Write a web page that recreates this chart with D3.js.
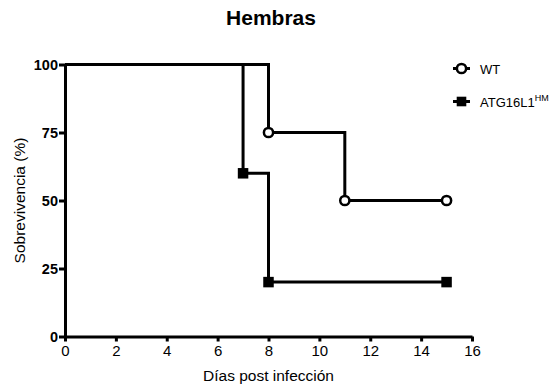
<!DOCTYPE html>
<html>
<head>
<meta charset="utf-8">
<script src="https://cdn.jsdelivr.net/npm/d3@7"></script>
<style>
  html, body { margin: 0; padding: 0; background: #fff; }
  svg { display: block; font-family: Arial, "Liberation Sans", sans-serif; }
</style>
</head>
<body>
<svg id="chart" width="554" height="387"></svg>
<script>
// Kaplan–Meier survival (females), % surviving by day post infection
const seriesNames = ["WT", "ATG16L1"];
const wtDays = [0, 8, 11, 15];
const wtSurvival = [100, 75, 50, 50];
const wtMarkedDays = [8, 11, 15];
const atgDays = [0, 7, 8, 15];
const atgSurvival = [100, 60, 20, 20];
const atgMarkedDays = [7, 8, 15];
const xTicks = [0, 2, 4, 6, 8, 10, 12, 14, 16];
const yTicks = [0, 25, 50, 75, 100];

const svg = d3.select("#chart");
const x = d3.scaleLinear().domain([0, 16]).range([65, 472]);
const y = d3.scaleLinear().domain([0, 100]).range([336.5, 64.5]);

// Title
svg.append("text")
  .attr("x", 271).attr("y", 25)
  .attr("text-anchor", "middle")
  .attr("font-size", 21).attr("font-weight", "bold")
  .text("Hembras");

// Axes
const xAxis = svg.append("g")
  .attr("transform", `translate(0,${y(0)})`)
  .call(d3.axisBottom(x).tickValues(xTicks).tickSize(5).tickSizeOuter(0).tickPadding(4));
const yAxis = svg.append("g")
  .attr("transform", `translate(${x(0)},0)`)
  .call(d3.axisLeft(y).tickValues(yTicks).tickSize(6).tickSizeOuter(0).tickPadding(1));

[xAxis, yAxis].forEach(g => {
  g.select(".domain").attr("stroke", "#000").attr("stroke-width", 3);
  g.selectAll(".tick line").attr("stroke", "#000").attr("stroke-width", 3);
  g.selectAll("text").attr("fill", "#000").attr("font-family", "Arial, 'Liberation Sans', sans-serif");
});
xAxis.selectAll("text").attr("font-size", 15);
yAxis.selectAll("text").attr("font-size", 14.5).attr("font-weight", "bold").attr("dy", "0.36em");

// Axis titles
svg.append("text")
  .attr("x", 268.5).attr("y", 381)
  .attr("text-anchor", "middle").attr("font-size", 15.5)
  .text("Días post infección");
svg.append("text")
  .attr("transform", `translate(24.5,${(y(0) + y(100)) / 2}) rotate(-90)`)
  .attr("text-anchor", "middle").attr("font-size", 15.5)
  .text("Sobrevivencia (%)");

// Step curves
const line = d3.line()
  .x(d => x(d[0])).y(d => y(d[1]))
  .curve(d3.curveStepAfter);

function survivalPoints(days, surv) {
  return days.map((d, i) => [d, surv[i]]);
}

const atgPts = survivalPoints(atgDays, atgSurvival);
const wtPts = survivalPoints(wtDays, wtSurvival);

svg.append("path").datum(atgPts)
  .attr("d", line).attr("fill", "none")
  .attr("stroke", "#000").attr("stroke-width", 3).attr("stroke-linejoin", "miter");
svg.append("path").datum(wtPts)
  .attr("d", line).attr("fill", "none")
  .attr("stroke", "#000").attr("stroke-width", 3).attr("stroke-linejoin", "miter");

// Markers
const atgMarks = atgPts.filter(p => atgMarkedDays.includes(p[0]));
const wtMarks = wtPts.filter(p => wtMarkedDays.includes(p[0]));
const sq = 10.5;
svg.append("g").selectAll("rect").data(atgMarks).join("rect")
  .attr("x", d => x(d[0]) - sq / 2).attr("y", d => y(d[1]) - sq / 2)
  .attr("width", sq).attr("height", sq).attr("fill", "#000");
svg.append("g").selectAll("circle").data(wtMarks).join("circle")
  .attr("cx", d => x(d[0])).attr("cy", d => y(d[1])).attr("r", 4.6)
  .attr("fill", "#fff").attr("stroke", "#000").attr("stroke-width", 2.5);

// Legend
const leg = svg.append("g");
const legendRows = [{ name: seriesNames[0], cy: 68.5, shape: "circle" },
                    { name: seriesNames[1], cy: 101.5, shape: "square", sup: "HM" }];
legendRows.forEach(r => {
  leg.append("line").attr("x1", 453).attr("x2", 470).attr("y1", r.cy).attr("y2", r.cy)
    .attr("stroke", "#000").attr("stroke-width", 3);
  if (r.shape === "circle") {
    leg.append("circle").attr("cx", 461.5).attr("cy", r.cy).attr("r", 4.6)
      .attr("fill", "#fff").attr("stroke", "#000").attr("stroke-width", 2.5);
  } else {
    leg.append("rect").attr("x", 461.5 - 4.8).attr("y", r.cy - 4.8)
      .attr("width", 9.6).attr("height", 9.6).attr("fill", "#000");
  }
  const t = leg.append("text").attr("x", 480).attr("y", r.cy + 5)
    .attr("font-size", 13).text(r.name);
  if (r.sup) {
    t.append("tspan").attr("font-size", 9).attr("dy", -6).text(r.sup);
  }
});
</script>
</body>
</html>
